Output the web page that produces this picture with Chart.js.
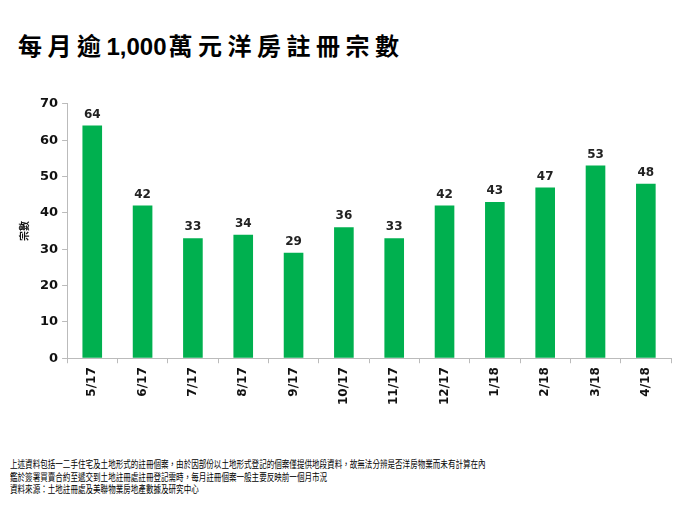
<!DOCTYPE html>
<html>
<head>
<meta charset="utf-8">
<script src="https://cdn.jsdelivr.net/npm/chart.js@4"></script>
<style>
  body { margin: 0; width: 700px; height: 525px; background: #fff; position: relative; font-family: "Noto Sans CJK TC", sans-serif; overflow: hidden; }
  #title { position: absolute; left: 18px; top: 27px; font-size: 24px; font-weight: bold; letter-spacing: 5.5px; color: #000; white-space: nowrap; }
  #title .num { font-family: "Liberation Sans", sans-serif; font-size: 24px; letter-spacing: 0; margin-right: 2px; }
  #chartBox { position: absolute; left: 0; top: 92px; width: 700px; height: 317px; }
  #notes { position: absolute; left: 10px; top: 458px; font-size: 10px; line-height: 12.5px; color: #000; white-space: nowrap; transform: scaleX(0.755); transform-origin: left top; }
</style>
</head>
<body>
<div id="title">每月逾<span class="num">1,000</span>萬元洋房註冊宗數</div>
<div id="chartBox"><canvas id="c"></canvas></div>
<div id="notes">
  上述資料包括一二手住宅及土地形式的註冊個案，由於因部份以土地形式登記的個案僅提供地段資料，故無法分辨是否洋房物業而未有計算在內<br>
  鑑於簽署買賣合約至遞交到土地註冊處註冊登記需時，每月註冊個案一般主要反映前一個月市況<br>
  資料來源：土地註冊處及美聯物業房地產數據及研究中心
</div>
<script>
const months = ["5/17", "6/17", "7/17", "8/17", "9/17", "10/17", "11/17", "12/17", "1/18", "2/18", "3/18", "4/18"];
const counts = [64, 42, 33, 34, 29, 36, 33, 42, 43, 47, 53, 48];
const yTicks = [0, 10, 20, 30, 40, 50, 60, 70];

// draw the value above each bar
const valueLabels = {
  id: "valueLabels",
  afterDatasetsDraw(chart) {
    const ctx = chart.ctx;
    const meta = chart.getDatasetMeta(0);
    ctx.save();
    ctx.font = "bold 12px 'DejaVu Sans'";
    ctx.fillStyle = "#222";
    ctx.textAlign = "center";
    ctx.textBaseline = "bottom";
    meta.data.forEach((bar, i) => {
      ctx.fillText(counts[i], bar.x, bar.y - 5);
    });
    ctx.restore();
  },
};

new Chart(document.getElementById("c"), {
  type: "bar",
  data: {
    labels: months,
    datasets: [
      {
        data: counts,
        backgroundColor: "#00b04f",
        barPercentage: 0.78,
        categoryPercentage: 0.5,
      },
    ],
  },
  options: {
    responsive: true,
    maintainAspectRatio: false,
    animation: false,
    layout: { padding: { left: 14, right: 29, top: 10, bottom: 0 } },
    plugins: {
      legend: { display: false },
      tooltip: { enabled: false },
    },
    scales: {
      x: {
        grid: { display: true, drawOnChartArea: false, offset: true, color: "#bbb", tickLength: 5 },
        border: { color: "#bbb" },
        ticks: {
          minRotation: 90,
          maxRotation: 90,
          color: "#111",
          padding: 4,
          font: { family: "DejaVu Sans", size: 12, weight: "bold" },
        },
      },
      y: {
        min: 0,
        max: 70,
        afterBuildTicks: (axis) => { axis.ticks = yTicks.map((v) => ({ value: v })); },
        grid: { display: true, drawOnChartArea: false, color: "#bbb", tickLength: 5 },
        border: { color: "#bbb" },
        title: {
          display: true,
          text: "宗數",
          color: "#111",
          font: { family: "Noto Sans CJK TC", size: 10, weight: "bold" },
          padding: { bottom: 6 },
        },
        ticks: {
          color: "#111",
          padding: 4,
          font: { family: "DejaVu Sans", size: 13, weight: "bold" },
        },
      },
    },
  },
  plugins: [valueLabels],
});
</script>
</body>
</html>
